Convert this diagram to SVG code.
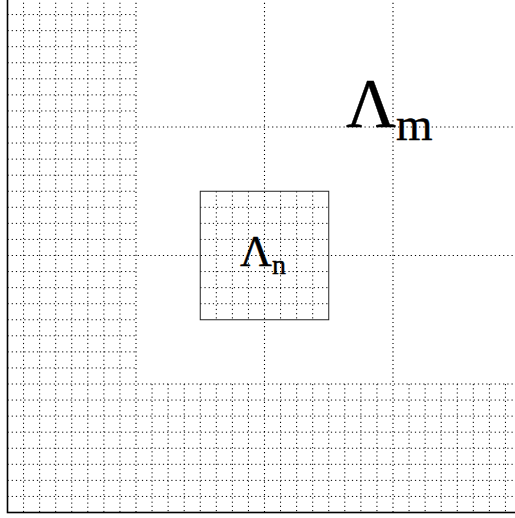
<svg xmlns="http://www.w3.org/2000/svg" width="515" height="518" viewBox="0 0 515 518">
<style>
.fine{fill:none;stroke:#000;stroke-width:1;stroke-dasharray:1.2 3}
.coarse{fill:none;stroke:#000;stroke-width:1.1;stroke-dasharray:1.2 3}
.frame{fill:none;stroke:#000;stroke-width:1.6}
.box{fill:none;stroke:#222;stroke-width:1}
.lbl{font-family:"Liberation Serif","Times New Roman",serif;fill:#000;stroke:#000;stroke-width:0.4}
</style>
<rect width="515" height="518" fill="#fff"/>
<g id="grid-fine">
<path class="fine" d="M23.56,-1.5V512.5M39.63,-1.5V512.5M55.69,-1.5V512.5M71.75,-1.5V512.5M87.81,-1.5V512.5M103.88,-1.5V512.5M119.94,-1.5V512.5"/>
<path class="fine" d="M7.5,14.56H136M7.5,30.63H136M7.5,46.69H136M7.5,62.75H136M7.5,78.81H136M7.5,94.88H136M7.5,110.94H136M7.5,143.06H136M7.5,159.13H136M7.5,175.19H136M7.5,191.25H136M7.5,207.31H136M7.5,223.38H136M7.5,239.44H136M7.5,271.56H136M7.5,287.63H136M7.5,303.69H136M7.5,319.75H136M7.5,335.81H136M7.5,351.88H136M7.5,367.94H136"/>
<path class="fine" d="M152.06,384V512.5M168.13,384V512.5M184.19,384V512.5M200.25,384V512.5M216.31,384V512.5M232.38,384V512.5M248.44,384V512.5M280.56,384V512.5M296.63,384V512.5M312.69,384V512.5M328.75,384V512.5M344.81,384V512.5M360.88,384V512.5M376.94,384V512.5M409.06,384V512.5M425.13,384V512.5M441.19,384V512.5M457.25,384V512.5M473.31,384V512.5M489.38,384V512.5M505.44,384V512.5"/>
<path class="fine" d="M7.5,400.06H521.5M7.5,416.13H521.5M7.5,432.19H521.5M7.5,448.25H521.5M7.5,464.31H521.5M7.5,480.38H521.5M7.5,496.44H521.5"/>
<path class="fine" d="M216.31,191.25V319.75M232.38,191.25V319.75M248.44,191.25V319.75M280.56,191.25V319.75M296.63,191.25V319.75M312.69,191.25V319.75"/>
<path class="fine" d="M200.25,207.31H328.75M200.25,223.38H328.75M200.25,239.44H328.75M200.25,271.56H328.75M200.25,287.63H328.75M200.25,303.69H328.75"/>
</g>
<g id="grid-coarse">
<path class="coarse" d="M136,-1.5V512.5M264.5,-1.5V512.5M393,-1.5V512.5"/>
<path class="coarse" d="M7.5,127H521.5M7.5,255.5H521.5M7.5,384H521.5"/>
</g>
<g id="frame">
<rect class="frame" x="7.5" y="-1.5" width="514" height="514"/>
</g>
<g id="node-lambda-n">
<rect class="box" x="200.25" y="191.25" width="128.5" height="128.5"/>
<text class="lbl" x="240" y="266" font-size="44">Λ<tspan font-size="28" dy="8">n</tspan></text>
</g>
<g id="node-lambda-m">
<text class="lbl" x="346" y="127" font-size="69">Λ<tspan font-size="47" dy="13">m</tspan></text>
</g>
</svg>
